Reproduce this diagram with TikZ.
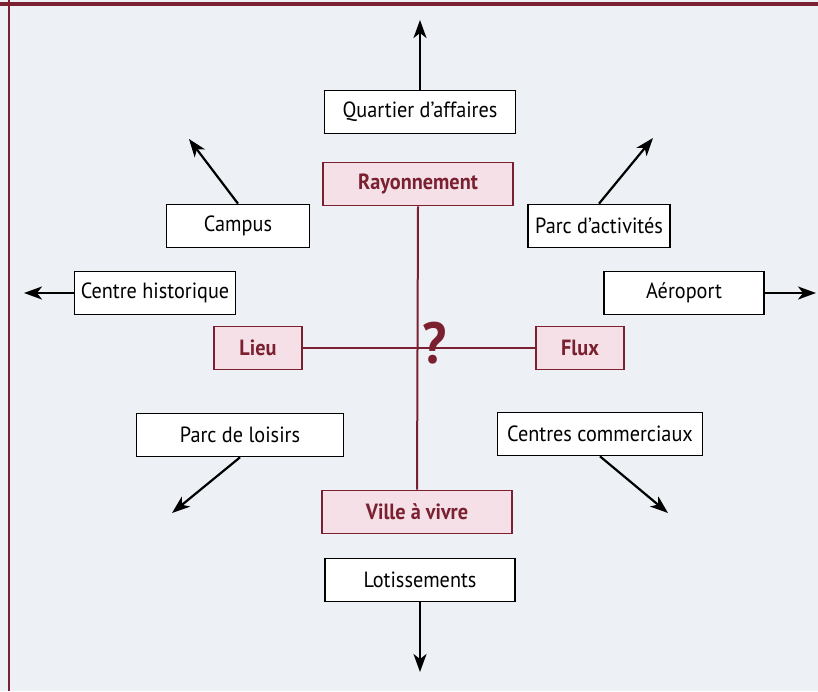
\documentclass[tikz,border=0pt]{standalone}
\usepackage{fontspec}
\setmainfont{PT Sans}[FakeStretch=0.92]
\usetikzlibrary{arrows.meta}
\definecolor{bordeaux}{RGB}{122,32,48}
\definecolor{rose}{RGB}{244,224,230}
\definecolor{papier}{RGB}{237,240,245}

\begin{document}
\begin{tikzpicture}[x=1pt,y=-1pt,
    box/.style={draw=black, line width=1.7pt, fill=white, minimum height=43pt,
      inner sep=0pt, font=\fontsize{22}{24}\selectfont},
    pole/.style={box, draw=bordeaux, fill=rose, text=bordeaux,
      font=\fontsize{22}{24}\selectfont\bfseries},
    fleche/.style={line width=2.2pt, -{Stealth[length=18pt,width=13pt,inset=5pt]}},
    axe/.style={draw=bordeaux, line width=2pt}]
  \useasboundingbox (0,0) rectangle (818,691);
  \fill[papier] (0,0) rectangle (818,691);
  \draw[bordeaux, line width=4pt] (0,4) -- (818,4);
  \draw[bordeaux, line width=2pt] (9,0) -- (9,691);

  % the four poles
  \node[pole, minimum width=190pt] (r) at (418,184) {Rayonnement};
  \node[pole, minimum width=190pt] (v) at (417,512) {Ville à vivre};
  \node[pole, minimum width=88pt] (li) at (258,348) {Lieu};
  \node[pole, minimum width=88pt] (fl) at (580,348) {Flux};
  \draw[axe] (r.south) -- (v.north);
  \draw[axe] (li.east) -- (fl.west);
  \node[text=bordeaux, inner sep=0pt,
    font=\fontsize{58}{58}\selectfont\bfseries] (qm) at (435,343) {?};

  % outer boxes
  \node[box, minimum width=191pt] (q) at (420,112) {Quartier d’affaires};
  \node[box, minimum width=143pt] (ca) at (238,226) {Campus};
  \node[box, minimum width=142pt] (pa) at (599,226) {Parc d’activités};
  \node[box, minimum width=161pt] (ch) at (155,293) {Centre historique};
  \node[box, minimum width=160pt] (ae) at (684,293) {Aéroport};
  \node[box, minimum width=207pt] (pl) at (240,435) {Parc de loisirs};
  \node[box, minimum width=205pt] (cc) at (600,434) {Centres commerciaux};
  \node[box, minimum width=190pt] (lo) at (420,580) {Lotissements};

  \coordinate (q1) at (420,20);
  \coordinate (ca1) at (189,139);
  \coordinate (pa1) at (653,138);
  \coordinate (ch1) at (24,293);
  \coordinate (ae1) at (816,293);
  \coordinate (pl1) at (172,513);
  \coordinate (cc1) at (668,513);
  \coordinate (lo1) at (420,672);

  \draw[fleche] (q.north) -- (q1);
  \draw[fleche] (ca.north) -- (ca1);
  \draw[fleche] (pa.north) -- (pa1);
  \draw[fleche] (ch.west) -- (ch1);
  \draw[fleche] (ae.east) -- (ae1);
  \draw[fleche] (pl.south) -- (pl1);
  \draw[fleche] (cc.south) -- (cc1);
  \draw[fleche] (lo.south) -- (lo1);
\end{tikzpicture}
\end{document}
